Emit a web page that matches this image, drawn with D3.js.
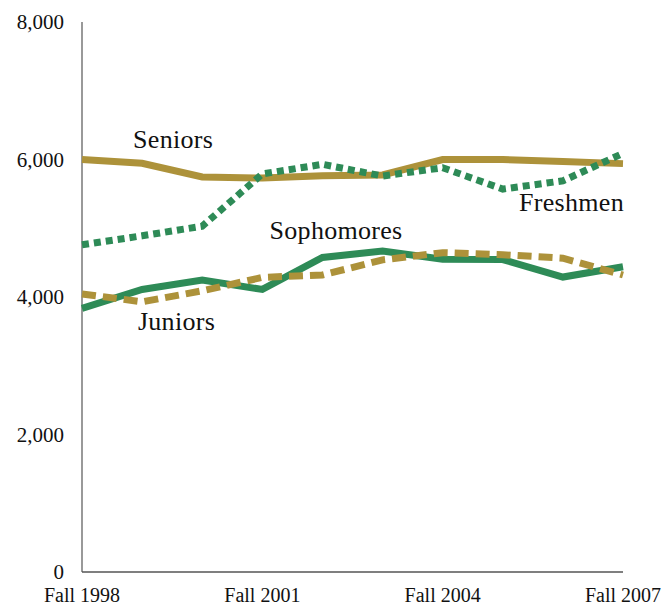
<!DOCTYPE html>
<html>
<head>
<meta charset="utf-8">
<script src="https://cdn.jsdelivr.net/npm/d3@7"></script>
<style>
  body { margin: 0; background: #fff; }
  text { font-family: "Liberation Serif", "Times New Roman", serif; fill: #111; }
</style>
</head>
<body>
<div id="chart"></div>
<script>
var years = [1998, 1999, 2000, 2001, 2002, 2003, 2004, 2005, 2006, 2007];
var tickYears = [1998, 2001, 2004, 2007];
var yTicks = [0, 2000, 4000, 6000, 8000];

var seniors    = [6000, 5945, 5745, 5730, 5765, 5775, 6000, 6000, 5970, 5940];
var freshmen   = [4760, 4890, 5030, 5790, 5930, 5760, 5880, 5570, 5690, 6090];
var sophomores = [3835, 4110, 4245, 4110, 4575, 4670, 4550, 4545, 4290, 4440];
var juniors    = [4045, 3930, 4090, 4285, 4320, 4540, 4645, 4615, 4565, 4320];

var gold = "#ad923a", green = "#2e8b57";

var series = [
    { name: "Seniors",    values: seniors,    color: gold,  dash: null,   lx: 2000 - 1.15, ly: 6165 },
    { name: "Freshmen",   values: freshmen,   color: green, dash: "7,5",  lx: 2004 + 1.27, ly: 5245 },
    { name: "Sophomores", values: sophomores, color: green, dash: null,   lx: 2001 + 0.12, ly: 4850 },
    { name: "Juniors",    values: juniors,    color: gold,  dash: "14,7", lx: 1998 + 0.93, ly: 3520 }
];

var width = 661, height = 606;

var x = d3.scaleLinear().domain([1998, 2007]).range([82, 623]);
var y = d3.scaleLinear().domain([0, 8000]).range([572, 22]);

var svg = d3.select("#chart")
    .append("svg")
    .attr("width", width)
    .attr("height", height);

// axes
svg.append("line")
    .attr("x1", x(1998)).attr("x2", x(1998))
    .attr("y1", y(8000)).attr("y2", y(0))
    .attr("stroke", "#777").attr("stroke-width", 1.5);

svg.append("line")
    .attr("x1", x(1998)).attr("x2", x(2007))
    .attr("y1", y(0)).attr("y2", y(0))
    .attr("stroke", "#555").attr("stroke-width", 1.5);

svg.selectAll(".ytick")
    .data(yTicks)
    .enter()
    .append("text")
    .attr("class", "ytick")
    .attr("x", 64)
    .attr("y", function (d) { return y(d); })
    .attr("dy", "0.35em")
    .attr("text-anchor", "end")
    .attr("font-size", 21)
    .text(function (d) { return d3.format(",")(d); });

svg.selectAll(".xtick")
    .data(tickYears)
    .enter()
    .append("text")
    .attr("class", "xtick")
    .attr("x", function (d) { return x(d); })
    .attr("y", 602)
    .attr("text-anchor", "middle")
    .attr("font-size", 20)
    .text(function (d) { return "Fall " + d; });

var line = d3.line()
    .x(function (d, i) { return x(years[i]); })
    .y(function (d) { return y(d); });

svg.selectAll(".series")
    .data(series)
    .enter()
    .append("path")
    .attr("class", "series")
    .attr("d", function (d) { return line(d.values); })
    .attr("fill", "none")
    .attr("stroke", function (d) { return d.color; })
    .attr("stroke-width", 7)
    .attr("stroke-dasharray", function (d) { return d.dash; });

// series labels
svg.selectAll(".label")
    .data(series)
    .enter()
    .append("text")
    .attr("class", "label")
    .attr("x", function (d) { return x(d.lx); })
    .attr("y", function (d) { return y(d.ly); })
    .attr("font-size", 26)
    .attr("letter-spacing", 0.3)
    .text(function (d) { return d.name; });
</script>
</body>
</html>
